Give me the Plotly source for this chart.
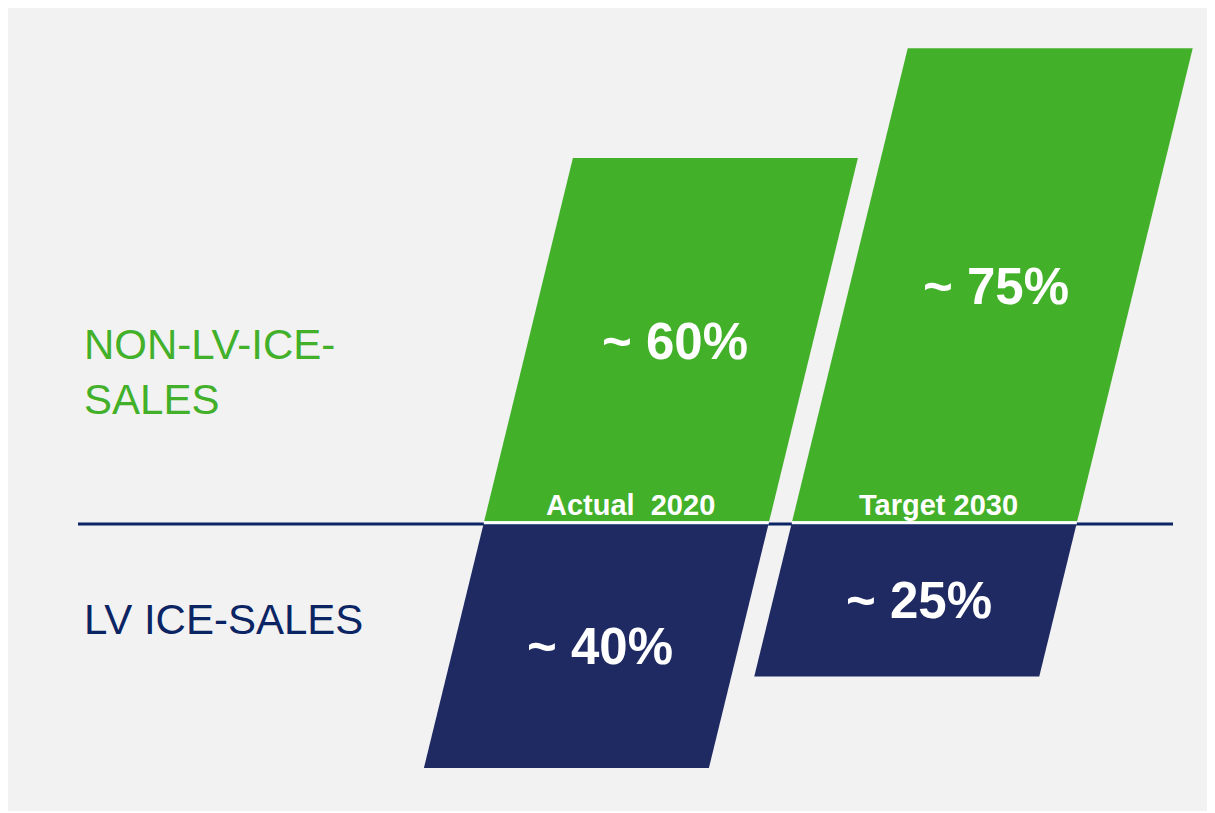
import plotly.graph_objects as go

# Dados
categorias = ["Actual\u00a0 2020", "Target 2030"]
nao_lv_ice = [60, 78]
lv_ice = [40, 25]
rotulos_nao_lv = ["~ 60%", "~ 75%"]
rotulos_lv = ["~ 40%", "~ 25%"]
serie_nomes = ["NON-LV-ICE-<br>SALES", "LV ICE-SALES"]

VERDE = "#43b02a"
AZUL_BARRA = "#1f2a63"
AZUL_TEXTO = "#0b2463"
FUNDO = "#f2f2f2"

# Geometria (eixo x em px da página, eixo y em %)
CENTROS = [626, 934]
LARGURA = 285
INCLINA = 1.49          # deslocamento x por unidade de y
ESCALA = 6.1            # px por unidade de y
BASE_PX = 524
OFFSET = 8              # margem do body da página
TOPO_PX, FUNDO_PX = 8, 811
ESQ_PX, DIR_PX = 8, 1213


def x_em(c, y, lado):
    return c + INCLINA * y + lado * LARGURA / 2


def paralelogramo(c, y0, y1):
    xs = [x_em(c, y0, -1), x_em(c, y0, 1), x_em(c, y1, 1), x_em(c, y1, -1), x_em(c, y0, -1)]
    ys = [y0, y0, y1, y1, y0]
    return xs, ys


fig = go.Figure()

for c, v in zip(CENTROS, lv_ice):
    xs, ys = paralelogramo(c, -0.15, -v)
    fig.add_trace(go.Scatter(x=xs, y=ys, fill="toself", fillcolor=AZUL_BARRA,
                             mode="lines", line=dict(width=0), hoverinfo="skip"))

for c, v in zip(CENTROS, nao_lv_ice):
    xs, ys = paralelogramo(c, 0.45, v)
    fig.add_trace(go.Scatter(x=xs, y=ys, fill="toself", fillcolor=VERDE,
                             mode="lines", line=dict(width=0), hoverinfo="skip"))
    # linha branca na base da barra verde
    fig.add_trace(go.Scatter(x=[x_em(c, 0.2, -1), x_em(c, 0.2, 1)], y=[0.2, 0.2],
                             mode="lines", line=dict(color="white", width=3), hoverinfo="skip"))

# Rótulos de valores
for c, v, t in zip(CENTROS, nao_lv_ice, rotulos_nao_lv):
    fig.add_annotation(x=c + INCLINA * v / 2, y=v / 2, text=t, showarrow=False, xshift=4,
                       font=dict(family="Liberation Sans, Arial", size=51, color="white", weight="bold"))
for c, v, t in zip(CENTROS, lv_ice, rotulos_lv):
    fig.add_annotation(x=c - INCLINA * v / 2, y=-v / 2, text=t, showarrow=False, xshift=4,
                       font=dict(family="Liberation Sans, Arial", size=51, color="white", weight="bold"))

# Rótulos das categorias
for c, t in zip(CENTROS, categorias):
    fig.add_annotation(x=x_em(c, 3.1, 0), y=3.1, text=t, showarrow=False,
                       font=dict(family="Liberation Sans, Arial", size=29, color="white", weight="bold"))

# Nomes das séries à esquerda
fig.add_annotation(x=82, y=(BASE_PX - 372) / ESCALA, text=serie_nomes[0], showarrow=False,
                   xanchor="left", align="left",
                   font=dict(family="Liberation Sans, Arial", size=42, color=VERDE))
fig.add_annotation(x=82, y=(BASE_PX - 619) / ESCALA, text=serie_nomes[1], showarrow=False,
                   xanchor="left", align="left",
                   font=dict(family="Liberation Sans, Arial", size=42, color=AZUL_TEXTO))

# Linha horizontal de referência
fig.add_shape(type="line", x0=78, x1=1173, y0=0, y1=0, layer="below",
              line=dict(color=AZUL_TEXTO, width=3))

fig.update_layout(
    width=1215 - OFFSET, height=813 - OFFSET,
    margin=dict(l=ESQ_PX - OFFSET, r=1215 - DIR_PX, t=TOPO_PX - OFFSET, b=813 - FUNDO_PX),
    paper_bgcolor="white", plot_bgcolor=FUNDO,
    showlegend=False,
    xaxis=dict(range=[ESQ_PX, DIR_PX], visible=False, fixedrange=True),
    yaxis=dict(range=[-(FUNDO_PX - BASE_PX) / ESCALA, (BASE_PX - TOPO_PX) / ESCALA],
               visible=False, fixedrange=True),
)

fig.write_html("out.html")
